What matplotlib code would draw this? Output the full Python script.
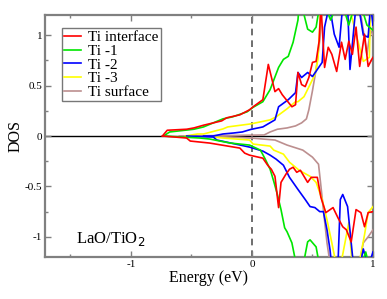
import matplotlib
matplotlib.use("Agg")
import matplotlib.pyplot as plt
from matplotlib.ticker import MultipleLocator

plt.rcParams['font.family'] = ['Liberation Serif', 'DejaVu Serif']

labels = ["Ti interface", "Ti -1", "Ti -2", "Ti -3", "Ti surface"]
colors = ["#ff0000", "#00e600", "#0000ff", "#ffff00", "#bc8f8f"]

# Upper (spin up) curves
red_up_x = [-0.74, -0.70, -0.54, -0.48, -0.40, -0.25, -0.21, -0.10, -0.02, 0.01, 0.09, 0.135, 0.19, 0.22, 0.25, 0.33, 0.36, 0.38, 0.41, 0.44, 0.47, 0.50, 0.53, 0.555, 0.57, 0.60, 0.63, 0.66, 0.70, 0.74, 0.77, 0.80, 0.83, 0.86, 0.89, 0.93, 0.96, 0.99, 1.0]
red_up_y = [0.0, 0.057, 0.067, 0.08, 0.107, 0.15, 0.18, 0.21, 0.26, 0.29, 0.36, 0.71, 0.44, 0.47, 0.41, 0.29, 0.31, 0.63, 0.51, 0.49, 0.58, 0.73, 0.74, 0.94, 1.3, 0.68, 0.88, 0.81, 0.64, 0.93, 0.76, 0.94, 0.81, 1.08, 0.69, 1.01, 0.69, 0.76, 0.78]
green_up_x = [-0.73, -0.68, -0.48, -0.40, -0.24, -0.16, -0.04, 0.01, 0.09, 0.15, 0.22, 0.26, 0.30, 0.34, 0.38, 0.39, 0.41, 0.46, 0.50, 0.53, 0.56, 0.60, 0.65, 0.70, 0.75, 0.80, 0.85, 0.90, 0.95, 1.0]
green_up_y = [0.0, 0.04, 0.067, 0.09, 0.17, 0.19, 0.24, 0.285, 0.34, 0.46, 0.68, 0.76, 0.79, 0.93, 1.15, 1.3, 1.3, 1.06, 1.03, 1.08, 1.3, 1.3, 1.15, 1.3, 1.3, 1.1, 1.3, 1.3, 1.1, 1.05]
blue_up_x = [-0.40, -0.32, -0.24, -0.15, -0.08, -0.01, 0.09, 0.19, 0.22, 0.30, 0.36, 0.38, 0.41, 0.46, 0.50, 0.54, 0.58, 0.60, 0.64, 0.68, 0.72, 0.75, 0.79, 0.81, 0.86, 0.88, 0.92, 0.96, 0.98, 1.0]
blue_up_y = [0.0, 0.0, 0.02, 0.03, 0.04, 0.065, 0.09, 0.16, 0.29, 0.36, 0.43, 0.63, 0.58, 0.63, 0.59, 0.66, 0.73, 1.08, 1.3, 1.01, 0.88, 1.3, 1.3, 0.66, 1.3, 1.3, 1.0, 0.98, 1.3, 1.1]
yellow_up_x = [-0.55, -0.45, -0.40, -0.24, -0.20, -0.01, 0.15, 0.20, 0.29, 0.36, 0.38, 0.43, 0.48, 0.52, 0.545, 0.57, 0.60, 0.70, 0.75, 0.80, 0.86, 0.92, 0.97, 0.98, 1.0]
yellow_up_y = [0.0, 0.02, 0.02, 0.07, 0.09, 0.12, 0.16, 0.19, 0.27, 0.34, 0.34, 0.39, 0.51, 0.61, 0.76, 1.3, 1.3, 1.3, 1.3, 1.3, 1.01, 0.74, 0.78, 1.3, 1.3]
brown_up_x = [-0.60, -0.20, 0.10, 0.15, 0.21, 0.29, 0.36, 0.41, 0.45, 0.47, 0.50, 0.53, 0.56, 0.58, 0.62, 0.70, 0.80, 0.88, 0.90, 0.95, 0.98, 1.0]
brown_up_y = [0.0, 0.005, 0.01, 0.04, 0.067, 0.08, 0.10, 0.13, 0.17, 0.26, 0.45, 0.66, 0.95, 1.3, 1.3, 1.3, 1.3, 1.3, 1.2, 0.81, 1.05, 1.0]

# Lower (spin down) curves
red_dn_x = [-0.74, -0.54, -0.51, -0.35, -0.10, -0.06, -0.02, 0.09, 0.13, 0.16, 0.19, 0.22, 0.24, 0.28, 0.31, 0.34, 0.37, 0.40, 0.46, 0.49, 0.54, 0.57, 0.61, 0.67, 0.71, 0.75, 0.78, 0.82, 0.86, 0.90, 0.93, 0.96, 1.0]
red_dn_y = [0.0, -0.02, -0.05, -0.07, -0.12, -0.17, -0.19, -0.22, -0.29, -0.33, -0.40, -0.71, -0.46, -0.38, -0.33, -0.31, -0.36, -0.34, -0.46, -0.41, -0.41, -0.61, -0.76, -0.71, -0.81, -0.90, -0.93, -1.05, -0.73, -0.76, -0.90, -0.76, -0.75]
green_dn_x = [-0.73, -0.54, -0.43, -0.35, -0.18, -0.02, 0.07, 0.11, 0.15, 0.18, 0.21, 0.24, 0.27, 0.29, 0.33, 0.37, 0.41, 0.42, 0.46, 0.48, 0.53, 0.56, 0.58, 0.62, 0.70, 0.80, 0.90, 0.94, 0.97, 1.0]
green_dn_y = [0.0, -0.013, -0.02, -0.03, -0.07, -0.09, -0.14, -0.23, -0.33, -0.45, -0.58, -0.73, -0.91, -0.95, -1.06, -1.3, -1.3, -1.3, -1.05, -1.03, -1.10, -1.3, -1.3, -1.3, -1.3, -1.3, -1.3, -1.15, -1.3, -1.25]
blue_dn_x = [-0.54, -0.43, -0.32, -0.29, -0.02, 0.09, 0.15, 0.20, 0.26, 0.31, 0.38, 0.44, 0.48, 0.52, 0.56, 0.59, 0.62, 0.645, 0.66, 0.71, 0.73, 0.75, 0.79, 0.84, 0.89, 0.92, 0.96, 1.0]
blue_dn_y = [0.0, -0.005, -0.01, -0.04, -0.11, -0.15, -0.19, -0.23, -0.29, -0.41, -0.53, -0.63, -0.70, -0.71, -0.75, -0.75, -0.93, -1.13, -1.3, -1.3, -0.63, -0.58, -0.70, -1.3, -1.3, -1.12, -1.3, -1.15]
yellow_dn_x = [-0.32, -0.24, -0.02, 0.01, 0.15, 0.18, 0.26, 0.31, 0.39, 0.48, 0.53, 0.58, 0.62, 0.66, 0.70, 0.73, 0.80, 0.83, 0.88, 0.93, 0.96, 1.0]
yellow_dn_y = [-0.01, -0.02, -0.04, -0.08, -0.10, -0.14, -0.18, -0.26, -0.34, -0.40, -0.46, -0.63, -0.83, -1.06, -1.3, -1.3, -0.86, -1.3, -1.3, -0.98, -0.76, -0.70]
brown_dn_x = [-0.30, -0.01, 0.19, 0.23, 0.29, 0.42, 0.50, 0.55, 0.57, 0.59, 0.62, 0.65, 0.70, 0.80, 0.88, 0.92, 0.96, 1.0]
brown_dn_y = [-0.005, -0.02, -0.04, -0.06, -0.09, -0.14, -0.21, -0.28, -0.50, -0.73, -1.06, -1.3, -1.3, -1.3, -1.3, -1.06, -1.0, -0.93]

up_x = [red_up_x, green_up_x, blue_up_x, yellow_up_x, brown_up_x]
up_y = [red_up_y, green_up_y, blue_up_y, yellow_up_y, brown_up_y]
dn_x = [red_dn_x, green_dn_x, blue_dn_x, yellow_dn_x, brown_dn_x]
dn_y = [red_dn_y, green_dn_y, blue_dn_y, yellow_dn_y, brown_dn_y]

fig = plt.figure(figsize=(3.87, 2.99), dpi=100)
ax = fig.add_axes([0.1163, 0.1405, 0.8475, 0.8093])

ax.axhline(0, color='black', lw=1.0, zorder=1)
ax.axvline(0, color='#555555', lw=1.2, ls=(0, (4, 3)), zorder=1)

for i in reversed(range(5)):
    ax.plot(dn_x[i], dn_y[i], color=colors[i], lw=1.2, zorder=2 + (5 - i))
for i in reversed(range(5)):
    ax.plot(up_x[i], up_y[i], color=colors[i], lw=1.2, zorder=2 + (5 - i))

handles = [plt.Line2D([], [], color=c, lw=1.2) for c in colors]
leg = ax.legend(handles, labels, loc='upper left', bbox_to_anchor=(0.052, 0.945),
                fontsize=11, frameon=True, fancybox=False, borderpad=0.15,
                labelspacing=0.0, handlelength=1.1, handletextpad=0.45,
                borderaxespad=0.0)
leg.get_frame().set_edgecolor('#555555')
leg.get_frame().set_linewidth(1.0)

ax.text(-1.45, -1.06, 'LaO/TiO$_2$', fontsize=12, color='black')

ax.set_xlim(-1.71, 1.0)
ax.set_ylim(-1.2, 1.2)
ax.xaxis.set_major_locator(MultipleLocator(1))
ax.xaxis.set_minor_locator(MultipleLocator(0.5))
ax.yaxis.set_major_locator(MultipleLocator(0.5))
ax.yaxis.set_minor_locator(MultipleLocator(0.25))
ax.set_xticks([-1, 0, 1])
ax.set_xticklabels(['-1', '0', '1'])
ax.set_yticks([-1, -0.5, 0, 0.5, 1])
ax.set_yticklabels(['-1', '-0.5', '0', '0.5', '1'])
ax.tick_params(which='both', direction='in', top=True, right=True, color='#808080',
               labelsize=8, pad=2)
ax.tick_params(which='major', length=4, width=1.0)
ax.tick_params(which='minor', length=2, width=1.0)
for s in ax.spines.values():
    s.set_color('#808080')
    s.set_linewidth(1.6)

ax.set_xlabel('Energy (eV)', fontsize=11.5, labelpad=1)
ax.set_ylabel('DOS', fontsize=11.5, labelpad=1)

fig.savefig('out.png', dpi=100)
